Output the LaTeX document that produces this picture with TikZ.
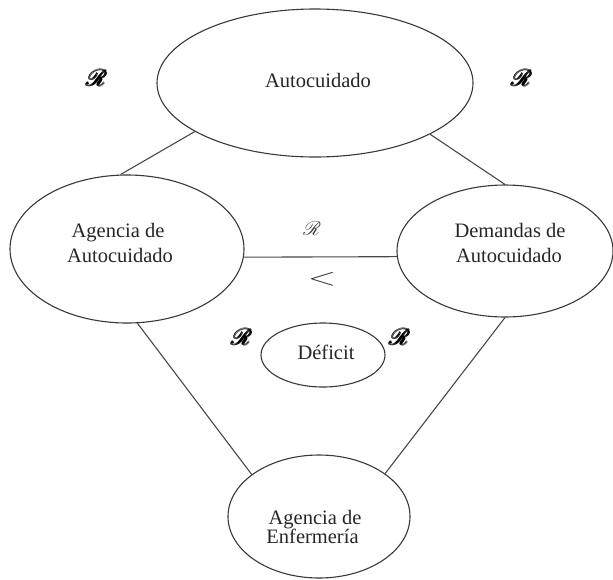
\documentclass[tikz,border=0pt]{standalone}
\usepackage{fontspec}
\setmainfont{Liberation Serif}
\usepackage{amsmath}
\usepackage{mathrsfs}
\usepackage{graphicx}
\usetikzlibrary{shapes.geometric}
\begin{document}
\begin{tikzpicture}[x=1pt,y=-1pt,
  ell/.style={draw=black!78, line width=1.1pt, ellipse, inner sep=0pt},
  conn/.style={draw=black!72, line width=1.1pt},
  lbl/.style={font=\fontsize{20.5}{24}\selectfont, anchor=base, inner sep=0pt, text=black!85},
  bigR/.style={inner sep=0pt},
  smallR/.style={inner sep=0pt, text=black!75},
]
\useasboundingbox (0,0) rectangle (613,579);
\node[ell, minimum width=316pt, minimum height=148pt] (auto) at (315,83) {};
\node[ell, minimum width=234pt, minimum height=148pt] (agen) at (127,249) {};
\node[ell, minimum width=216pt, minimum height=132pt] (dem) at (505,251) {};
\node[ell, minimum width=124pt, minimum height=64pt] (def) at (323,355) {};
\node[ell, minimum width=182pt, minimum height=123pt] (enf) at (319,516.5) {};

\node[lbl] (tauto) at (318,87) {Autocuidado};
\node[lbl] (tagen1) at (118,237) {Agencia de};
\node[lbl] (tagen2) at (120,262) {Autocuidado};
\node[lbl] (tdem1) at (510,237) {Demandas de};
\node[lbl] (tdem2) at (509,262) {Autocuidado};
\node[lbl] (tdef) at (326,359) {Déficit};
\node[lbl] (tenf1) at (315,524) {Agencia de};
\node[lbl] (tenf2) at (312.5,543) {Enfermería};

\draw[conn] (auto.202) -- (agen.95);
\draw[conn] (auto.336) -- (dem.90);
\draw[conn] (agen.356) -- (dem.183);
\draw[conn] (agen.278) -- (enf.148);
\draw[conn] (dem.270) -- (enf.33);

\node[bigR] (r1) at (97,78) {\resizebox{21pt}{!}{\pmb{$\mathscr{R}$}}};
\node[bigR] (r2) at (522,78) {\resizebox{21pt}{!}{\pmb{$\mathscr{R}$}}};
\node[bigR] (r3) at (242,337) {\resizebox{21pt}{!}{\pmb{$\mathscr{R}$}}};
\node[bigR] (r4) at (400,337) {\resizebox{21pt}{!}{\pmb{$\mathscr{R}$}}};
\node[smallR] (r0) at (312,229) {\resizebox{18pt}{!}{$\mathscr{R}$}};
\node[inner sep=0pt, text=black!80] (lt) at (322,279) {\scalebox{1.5}[1]{\fontsize{38}{38}\selectfont$<$}};
\end{tikzpicture}
\end{document}
